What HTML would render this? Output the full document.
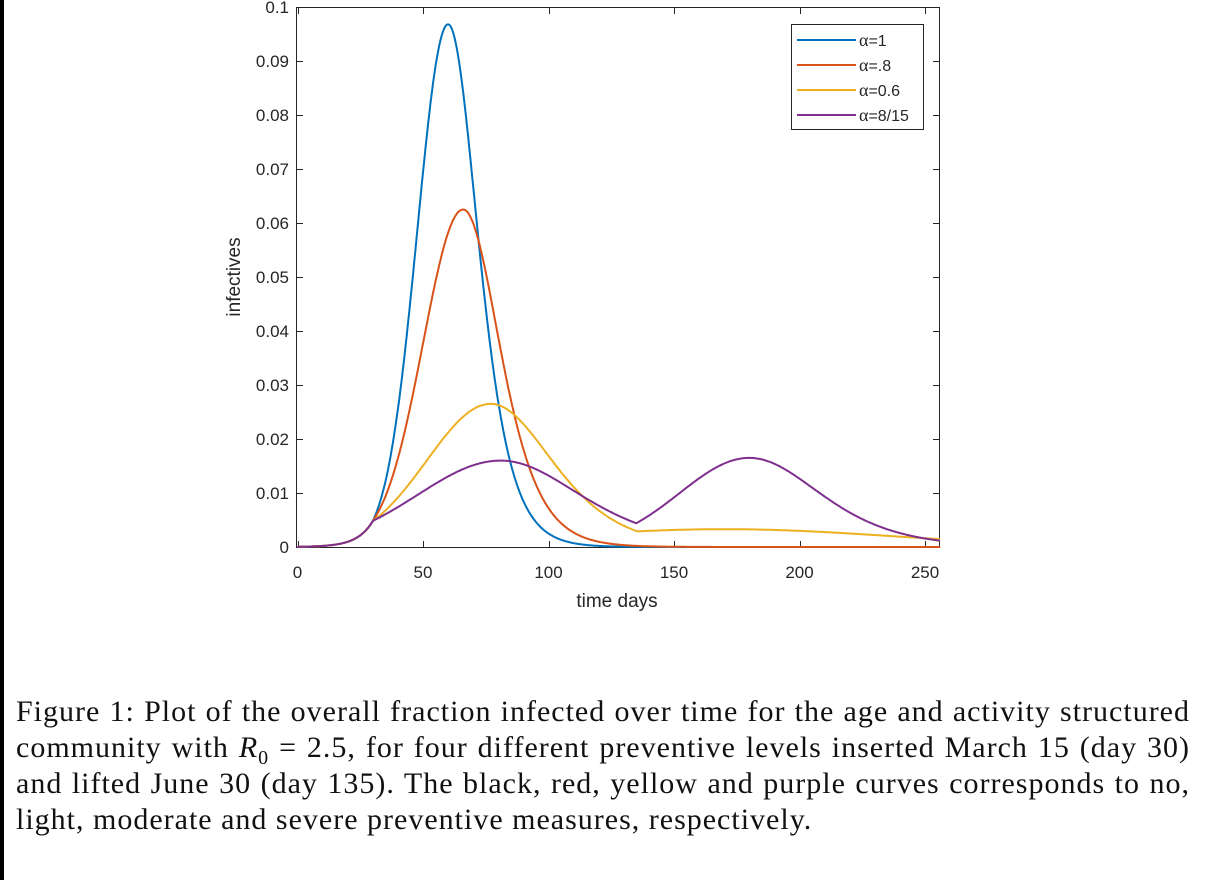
<!DOCTYPE html>
<html><head><meta charset="utf-8"><style>
body{margin:0;width:1219px;height:880px;background:#fff;overflow:hidden;position:relative}
.bar{position:absolute;left:0;top:0;width:4px;height:880px;background:#000}
svg{position:absolute;left:0;top:0}
.cap{position:absolute;left:16px;width:1174px;font-family:"Liberation Serif",serif;font-size:30px;letter-spacing:1px;color:#111;white-space:nowrap;line-height:34px}
.j{text-align:justify;text-align-last:justify}
</style></head><body>
<div class="bar"></div>
<svg width="1219" height="660" viewBox="0 0 1219 660" font-family="Liberation Sans, sans-serif">
<g id="ticks" stroke="#262626" stroke-width="1"></g>
<rect x="296.5" y="7.5" width="643" height="540" fill="none" stroke="#262626" stroke-width="1"/>
<g id="curves" fill="none" stroke-width="2"></g>
<g font-size="17" fill="#262626" text-anchor="end" id="ylab"></g>
<g font-size="17" fill="#262626" text-anchor="middle" id="xlab"></g>
<text x="617" y="607" font-size="19" fill="#262626" text-anchor="middle">time days</text>
<text transform="translate(240,277) rotate(-90)" font-size="19" fill="#262626" text-anchor="middle">infectives</text>
<rect x="791.5" y="24.5" width="132" height="105" fill="#fff" stroke="#262626" stroke-width="1"/>
<g stroke-width="2">
<line x1="797" y1="40" x2="856" y2="40" stroke="#0072BD"/>
<line x1="797" y1="65" x2="856" y2="65" stroke="#D95319"/>
<line x1="797" y1="90" x2="856" y2="90" stroke="#EDB120"/>
<line x1="797" y1="115" x2="856" y2="115" stroke="#7E2F8E"/>
</g>
<g font-size="16" fill="#262626">
<text x="859" y="46"><tspan font-family="Liberation Serif, serif" font-size="18">α</tspan>=1</text>
<text x="859" y="71"><tspan font-family="Liberation Serif, serif" font-size="18">α</tspan>=.8</text>
<text x="859" y="96"><tspan font-family="Liberation Serif, serif" font-size="18">α</tspan>=0.6</text>
<text x="859" y="121"><tspan font-family="Liberation Serif, serif" font-size="18">α</tspan>=8/15</text>
</g>
</svg>
<div class="cap j" style="top:695px">Figure 1: Plot of the overall fraction infected over time for the age and activity structured</div>
<div class="cap j" style="top:731px">community with <i>R</i><sub style="font-size:20px">0</sub> = 2.5, for four different preventive levels inserted March 15 (day 30)</div>
<div class="cap j" style="top:767px">and lifted June 30 (day 135). The black, red, yellow and purple curves corresponds to no,</div>
<div class="cap" style="top:803px">light, moderate and severe preventive measures, respectively.</div>
<script>
var X=function(t){return 297.5+t*2.51},Y=function(v){return 547-v*5400};
var ns="http://www.w3.org/2000/svg";
function el(p,n,a,txt){var e=document.createElementNS(ns,n);for(var k in a)e.setAttribute(k,a[k]);if(txt!=null)e.textContent=txt;document.getElementById(p).appendChild(e);}
for(var i=0;i<=10;i++){var y=Y(i*0.01)+0.5;el("ticks","line",{x1:296.5,x2:303,y1:y,y2:y});el("ticks","line",{x1:933,x2:939.5,y1:y,y2:y});
el("ylab","text",{x:289,y:Y(i*0.01)+6},i==0?"0":i==10?"0.1":"0.0"+i);}
for(var t=0;t<=250;t+=50){var x=Math.round(X(t))+0.5;el("ticks","line",{x1:x,x2:x,y1:541,y2:547.5});el("ticks","line",{x1:x,x2:x,y1:7.5,y2:14});
el("xlab","text",{x:X(t),y:578},String(t));}
function g(p,c,s,t){return p*Math.exp(-(t-c)*(t-c)/(2*s*s));}
function sh(p,c,w,t){var q=1/Math.cosh((t-c)/w);return p*q*q;}
function f0(t){return 0.0048*Math.exp(0.16*(t-30));}
var fs=[
["#0072BD",function(t){if(t<=30)return f0(t);if(t<=60)return g(0.0968,60,12.25,t);return sh(0.0968,60,15.9,t);}],
["#D95319",function(t){if(t<=30)return f0(t);if(t<=66)return g(0.0625,66,15.9,t);return sh(0.0625,66,19.5,t);}],
["#EDB120",function(t){if(t<=30)return f0(t);if(t<=77)return g(0.0265,77,25.4,t);if(t<=135)return sh(0.0265,77,33,t);return 0.0033*Math.exp(-Math.pow((t-170)/95,2));}],
["#7E2F8E",function(t){if(t<=30)return f0(t);if(t<=81)return g(0.016,81,33,t);if(t<=135)return sh(0.016,81,42.8,t);if(t<=180)return g(0.0165,180,27.7,t);return sh(0.0165,180,38,t);}]
];
fs.forEach(function(a){var d="";for(var t=0;t<=256;t+=0.5){var v=a[1](t);d+=(t?"L":"M")+X(t).toFixed(1)+","+Y(Math.max(v,0)).toFixed(1);}
el("curves","path",{d:d,stroke:a[0]});});
</script>
</body></html>
